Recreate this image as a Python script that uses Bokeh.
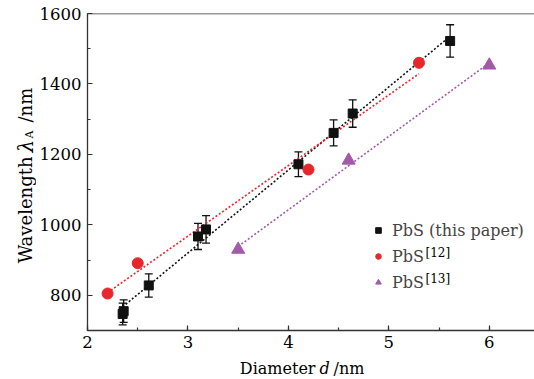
import numpy as np
from bokeh.plotting import figure
from bokeh.layouts import row, column
from bokeh.models import (Range1d, SingleIntervalTicker, ColumnDataSource, Whisker,
                          TeeHead, Legend, LegendItem, Label, Span)
from bokeh.embed import file_html
from bokeh.resources import INLINE

# ---- data ----
d_this = [2.35, 2.36, 2.61, 3.10, 3.18, 4.10, 4.45, 4.64, 5.61]
wl_this = [747, 755, 828, 967, 987, 1172, 1261, 1316, 1522]
err_this = [31, 32, 33, 37, 39, 35, 37, 39, 46]

d_12 = [2.2, 2.5, 4.2, 5.3]
wl_12 = [805, 891, 1157, 1460]

d_13 = [3.5, 4.6, 6.0]
wl_13 = [930, 1183, 1453]

x_start, x_end = 2.0, 6.45
y_start, y_end = 700, 1600

BLACK = "#111111"
RED = "#e8262b"
PURPLE = "#a35aab"
AX = "#333333"
FONT = "DejaVu Serif"

YT_W = 36      # width of the strip that holds the y-axis title
XT_H = 24      # height of the strip that holds the x-axis title
W, H = 534, 379

p = figure(width=W - YT_W, height=H - XT_H, output_backend="svg", toolbar_location=None,
           x_range=Range1d(x_start, x_end), y_range=Range1d(y_start, y_end),
           min_border_left=51, min_border_right=0, min_border_top=13, min_border_bottom=25)
p.background_fill_color = "white"
p.border_fill_color = "white"
p.outline_line_color = None
p.xgrid.visible = False
p.ygrid.visible = False

p.xaxis.ticker = SingleIntervalTicker(interval=1, num_minor_ticks=2)
p.yaxis.ticker = SingleIntervalTicker(interval=200, num_minor_ticks=2)
for ax in (p.xaxis, p.yaxis):
    ax.axis_line_color = AX
    ax.axis_line_width = 1.3
    ax.major_tick_line_color = AX
    ax.minor_tick_line_color = AX
    ax.major_tick_line_width = 1.2
    ax.minor_tick_line_width = 1.2
    ax.major_tick_in = 5
    ax.major_tick_out = 0
    ax.minor_tick_in = 3
    ax.minor_tick_out = 0
    ax.major_label_text_font = FONT
    ax.major_label_text_font_size = "16.5px"
    ax.major_label_text_color = "black"
p.xaxis.major_label_standoff = 5
p.yaxis.major_label_standoff = 6

# top frame line
p.add_layout(Span(location=y_end, dimension="width", line_color=AX, line_width=1.3))

# fit lines
def fit_line(xs, ys, color):
    k, b = np.polyfit(xs, ys, 1)
    xx = np.array([min(xs), max(xs)])
    p.line(xx, k * xx + b, line_color=color, line_width=1.6, line_dash="2 2")

fit_line(d_this, wl_this, BLACK)
fit_line(d_12, wl_12, RED)
fit_line(d_13, wl_13, PURPLE)

# error bars
src = ColumnDataSource(dict(x=d_this, y=wl_this,
                            upper=[v + e for v, e in zip(wl_this, err_this)],
                            lower=[v - e for v, e in zip(wl_this, err_this)]))
wh = Whisker(source=src, base="x", upper="upper", lower="lower",
             line_color=BLACK, line_width=1.3, level="underlay",
             upper_head=TeeHead(size=8, line_color=BLACK, line_width=1.3),
             lower_head=TeeHead(size=8, line_color=BLACK, line_width=1.3))
p.add_layout(wh)

r1 = p.scatter("x", "y", source=src, marker="square", size=9,
               fill_color=BLACK, line_color=BLACK)
r2 = p.scatter(d_12, wl_12, marker="circle", size=11, fill_color=RED, line_color=RED)
r3 = p.scatter(d_13, wl_13, marker="triangle", size=13, fill_color=PURPLE, line_color=PURPLE)

legend = Legend(items=[LegendItem(label="PbS (this paper)", renderers=[r1]),
                       LegendItem(label="PbS", renderers=[r2]),
                       LegendItem(label="PbS", renderers=[r3])],
                location=(284, 38), padding=0, spacing=6, glyph_width=14, glyph_height=20,
                label_standoff=7, border_line_color=None, background_fill_alpha=0,
                label_text_font=FONT, label_text_font_size="16px", margin=0)
p.add_layout(legend, "center")

# superscripts of the legend (screen units relative to the plot frame)
for txt, yy in (("[12]", 78), ("[13]", 52)):
    p.add_layout(Label(x=338, y=yy, x_units="screen", y_units="screen", text=txt,
                       text_font=FONT, text_font_size="12px", text_baseline="middle",
                       text_align="left", text_color="black"))


def text_strip(width, height):
    f = figure(width=width, height=height, output_backend="svg", toolbar_location=None,
               x_range=Range1d(0, 1), y_range=Range1d(0, 1),
               x_axis_type=None, y_axis_type=None, min_border=0)
    f.outline_line_color = None
    f.background_fill_color = "white"
    f.border_fill_color = "white"
    return f


# x axis title strip (its frame lines up with the plot frame)
xs_fig = text_strip(W - YT_W, XT_H)
xt = dict(x_units="screen", y_units="screen", y=11, text_font=FONT, text_font_size="16px",
          text_baseline="alphabetic", text_color="black")
xs_fig.add_layout(Label(x=228, text="Diameter", text_align="right", **xt))
xs_fig.add_layout(Label(x=232, text="d", text_align="left", text_font_style="italic", **xt))
xs_fig.add_layout(Label(x=246, text="/nm", text_align="left", **xt))

# y axis title strip (rotated text)
ys_fig = text_strip(YT_W, H)
yt = dict(x_units="screen", y_units="screen", angle=np.pi / 2, text_font=FONT,
          text_font_size="18px", text_baseline="alphabetic", text_color="black")
ys_fig.add_layout(Label(x=25, y=223, text="Wavelength", text_align="right", **yt))
lam = dict(yt)
lam["text_font_size"] = "20px"
ys_fig.add_layout(Label(x=25, y=227, text="λ", text_align="left", text_font_style="italic", **lam))
sub = dict(yt)
sub["text_font_size"] = "11px"
ys_fig.add_layout(Label(x=29, y=241, text="A", text_align="left", **sub))
ys_fig.add_layout(Label(x=25, y=257, text="/nm", text_align="left", **yt))

layout = row(ys_fig, column(p, xs_fig, spacing=0), spacing=0)

open("out.html", "w").write(file_html(layout, INLINE))
